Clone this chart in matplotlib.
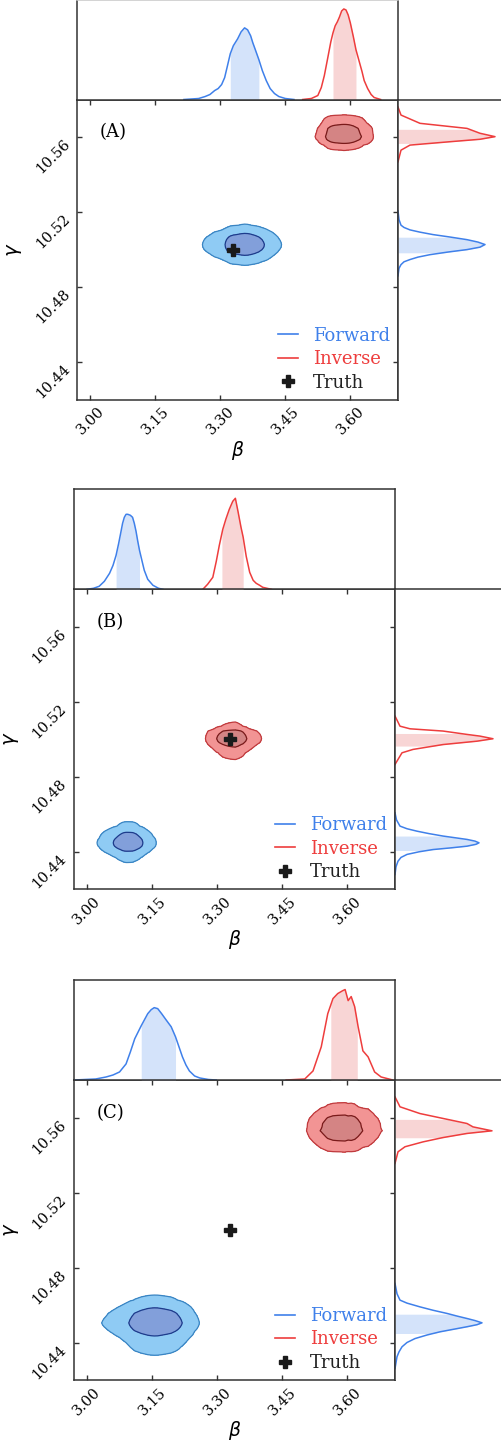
import numpy as np
import matplotlib
matplotlib.use("Agg")
import matplotlib.pyplot as plt
from matplotlib.lines import Line2D

plt.rcParams['font.family'] = ['DejaVu Serif']
plt.rcParams['mathtext.fontset'] = 'dejavusans'

# ---- data (densities in arbitrary units) ----
truth = (3.33, 10.50)
panel_labels = ['(A)', '(B)', '(C)']

# panel A
A_fwd_bx = [3.216, 3.25, 3.265, 3.276, 3.287, 3.295, 3.303, 3.31, 3.316, 3.323, 3.33, 3.34, 3.348,
            3.356, 3.363, 3.37, 3.375, 3.38, 3.389, 3.397, 3.406, 3.415, 3.425, 3.435, 3.45, 3.47]
A_fwd_bd = [0, 1, 3, 5, 9, 11, 15, 22, 33, 46, 54, 61, 68,
            72, 70, 64, 57, 51, 40, 29, 19, 11, 6, 3, 1, 0]
A_fwd_bs = (3.323, 3.389)
A_inv_bx = [3.49, 3.51, 3.525, 3.533, 3.54, 3.548, 3.555, 3.56, 3.565, 3.57, 3.575, 3.58, 3.585,
            3.59, 3.595, 3.60, 3.607, 3.613, 3.62, 3.627, 3.632, 3.64, 3.648, 3.655, 3.67]
A_inv_bd = [0, 1, 4, 12, 24, 42, 58, 67, 74, 78, 83, 89, 91,
            90, 85, 77, 63, 50, 39, 28, 19, 11, 5, 2, 0]
A_inv_bs = (3.56, 3.613)
A_fwd_gy = [10.486, 10.49, 10.492, 10.4935, 10.4947, 10.496, 10.4973, 10.4987, 10.5, 10.5013, 10.5027,
            10.504, 10.5053, 10.5067, 10.508, 10.5093, 10.5105, 10.5118, 10.513, 10.516, 10.5207]
A_fwd_gd = [0, 1, 3, 6, 12, 20, 32, 50, 69, 82, 87, 80, 69, 52, 35, 22, 12, 6, 3, 1, 0]
A_fwd_gs = (10.4983, 10.5066)
A_inv_gy = [10.5468, 10.553, 10.5557, 10.5575, 10.5588, 10.5602, 10.562, 10.5646, 10.5673, 10.5717, 10.576]
A_inv_gd = [0, 3, 12, 52, 82, 97, 82, 69, 22, 3, 0]
A_inv_gs = (10.5566, 10.5641)

# panel B
B_fwd_bx = [3.0, 3.015, 3.028, 3.04, 3.052, 3.06, 3.067, 3.073, 3.078, 3.082, 3.086, 3.09, 3.094,
            3.1, 3.105, 3.109, 3.113, 3.117, 3.121, 3.127, 3.132, 3.14, 3.152, 3.165, 3.175]
B_fwd_bd = [0, 1, 3, 8, 16, 24, 34, 46, 57, 66, 72, 75, 75,
            74, 72, 66, 58, 48, 39, 28, 19, 10, 4, 1, 0]
B_fwd_bs = (3.067, 3.121)
B_inv_bx = [3.267, 3.278, 3.29, 3.298, 3.305, 3.313, 3.32, 3.328, 3.336, 3.342, 3.348, 3.355,
            3.36, 3.367, 3.375, 3.383, 3.39, 3.398, 3.405, 3.425]
B_inv_bd = [0, 5, 12, 28, 44, 60, 70, 80, 88, 91, 78, 62,
            52, 33, 17, 9, 6, 4, 2, 0]
B_inv_bs = (3.311, 3.36)
B_fwd_gy = [10.4279, 10.432, 10.435, 10.437, 10.4386, 10.44, 10.4412, 10.4421, 10.443, 10.444, 10.4448,
            10.4457, 10.4466, 10.4475, 10.4484, 10.4497, 10.451, 10.4523, 10.4537, 10.457, 10.4608]
B_fwd_gd = [0, 1, 3, 6, 12, 24, 38, 56, 72, 81, 84, 80, 72, 60, 48, 34, 22, 12, 5, 1.5, 0]
B_fwd_gs = (10.4407, 10.4484)
B_inv_gy = [10.4866, 10.4928, 10.4946, 10.4972, 10.499, 10.5003, 10.5017, 10.5026, 10.5044, 10.5056, 10.507, 10.5124]
B_inv_gd = [0, 7, 18, 48, 82, 98, 85, 72, 48, 15, 5, 0]
B_inv_gs = (10.4964, 10.5031)

# panel C
C_fwd_bx = [2.97, 3.02, 3.044, 3.06, 3.075, 3.09, 3.1, 3.11, 3.125, 3.14, 3.148, 3.155, 3.163,
            3.172, 3.182, 3.194, 3.204, 3.212, 3.22, 3.228, 3.236, 3.248, 3.26, 3.28, 3.298]
C_fwd_bd = [0, 1, 3, 5, 8, 16, 28, 41, 54, 66, 70, 72, 71,
            66, 60, 53, 43, 33, 23, 15, 9, 4, 2, 0.5, 0]
C_fwd_bs = (3.125, 3.204)
C_inv_bx = [3.459, 3.502, 3.521, 3.54, 3.555, 3.567, 3.578, 3.59, 3.595, 3.602, 3.609, 3.617,
            3.625, 3.636, 3.648, 3.663, 3.678, 3.705]
C_inv_bd = [0, 1, 9, 33, 66, 81, 86, 89, 90, 79, 83, 73, 53, 29, 23, 8, 3, 0]
C_inv_bs = (3.562, 3.623)
C_fwd_gy = [10.4261, 10.4324, 10.435, 10.4377, 10.44, 10.4421, 10.444, 10.4457, 10.447, 10.4484, 10.4495,
            10.4505, 10.4517, 10.4528, 10.4541, 10.4555, 10.4572, 10.459, 10.461, 10.4626, 10.466, 10.4715]
C_fwd_gd = [0, 2, 4, 7, 12, 20, 32, 45, 58, 72, 82, 87, 80, 72, 62, 52, 38, 25, 12, 5, 2, 0]
C_fwd_gs = (10.4448, 10.4551)
C_inv_gy = [10.5355, 10.5417, 10.5444, 10.547, 10.5493, 10.5515, 10.5529, 10.555, 10.5568, 10.5595, 10.5621, 10.5657, 10.571]
C_inv_gd = [0, 3, 10, 28, 48, 72, 97, 78, 72, 48, 25, 5, 0]
C_inv_gs = (10.5492, 10.559)

xticks = [3.00, 3.15, 3.30, 3.45, 3.60]
yticks = [10.44, 10.48, 10.52, 10.56]

# styles
c_fwd, c_inv = '#3f80ea', '#ee3d3d'
shade_fwd, shade_inv = '#d4e3fa', '#f8d5d5'
fill_fwd = ['#8fcbf4', '#829fda']
edge_fwd = ['#3a84c2', '#1c3c8c']
fill_inv = ['#f29494', '#d48484']
edge_inv = ['#bf3a3d', '#7a1a1a']
spine_c = '#333333'

W, H = 501.0, 1450.0


def box(x0, y0, x1, y1):
    return [x0 / W, 1 - y1 / H, (x1 - x0) / W, (y1 - y0) / H]


def shaded(ax, xs, ds, lo, hi, color, vertical=False):
    xs = np.asarray(xs)
    ds = np.asarray(ds, dtype=float)
    inside = (xs > lo) & (xs < hi)
    px = np.concatenate([[lo], xs[inside], [hi]])
    pd_ = np.concatenate([[np.interp(lo, xs, ds)], ds[inside], [np.interp(hi, xs, ds)]])
    if vertical:
        ax.fill_betweenx(px, 0, pd_, color=color, lw=0)
    else:
        ax.fill_between(px, 0, pd_, color=color, lw=0)


def joint(ax, bx, bd, gy, gd, fills, edges):
    z = np.outer(np.asarray(gd, float), np.asarray(bd, float))
    z = z / z.max()
    ax.contourf(bx, gy, z, levels=[0.03, 0.33, 1.01], colors=fills)
    ax.contour(bx, gy, z, levels=[0.03, 0.33], colors=edges, linewidths=0.9)


panels = [
    (A_fwd_bx, A_fwd_bd, A_fwd_bs, A_inv_bx, A_inv_bd, A_inv_bs,
     A_fwd_gy, A_fwd_gd, A_fwd_gs, A_inv_gy, A_inv_gd, A_inv_gs),
    (B_fwd_bx, B_fwd_bd, B_fwd_bs, B_inv_bx, B_inv_bd, B_inv_bs,
     B_fwd_gy, B_fwd_gd, B_fwd_gs, B_inv_gy, B_inv_gd, B_inv_gs),
    (C_fwd_bx, C_fwd_bd, C_fwd_bs, C_inv_bx, C_inv_bd, C_inv_bs,
     C_fwd_gy, C_fwd_gd, C_fwd_gs, C_inv_gy, C_inv_gd, C_inv_gs),
]
# pixel frames of each panel: left, right, top of marginal, top of main, bottom of main
frames = [(77.3, 398, 0, 99.5, 399.7), (74, 395, 489.3, 589.3, 889.3), (74, 395, 979.5, 1080, 1380)]

fig = plt.figure(figsize=(5.01, 14.5), dpi=100)

for k, (p, fr, lab) in enumerate(zip(panels, frames, panel_labels)):
    (fbx, fbd, fbs, ibx, ibd, ibs, fgy, fgd, fgs, igy, igd, igs) = p
    x0, x1, yt, ym, yb = fr

    ax = fig.add_axes(box(x0, ym, x1, yb))
    axt = fig.add_axes(box(x0, yt, x1, ym))
    axr = fig.add_axes(box(x1, ym, x1 + 108, yb))

    # main panel
    joint(ax, fbx, fbd, fgy, fgd, fill_fwd, edge_fwd)
    joint(ax, ibx, ibd, igy, igd, fill_inv, edge_inv)
    ax.plot([truth[0]], [truth[1]], marker='P', ms=9, color='#1a1a1a', ls='none', zorder=5)
    ax.set_xlim(2.97, 3.71)
    ax.set_ylim(10.42, 10.58)
    ax.set_xticks(xticks)
    ax.set_yticks(yticks)
    ax.set_xticklabels([f'{v:.2f}' for v in xticks], rotation=45)
    ax.set_yticklabels([f'{v:.2f}' for v in yticks], rotation=45, ha='right', va='top')
    ax.tick_params(direction='in', top=True, right=True, length=3.5, width=1,
                   labelsize=10.5, color=spine_c)
    ax.set_xlabel(r'$\beta$', fontsize=13.5)
    ax.set_ylabel(r'$\gamma$', fontsize=14)
    ax.xaxis.set_label_coords(0.5, -0.13)
    ax.yaxis.set_label_coords(-0.166, 0.5)
    ax.text(0.07, 0.89, lab, transform=ax.transAxes, fontsize=13, va='center', ha='left')

    handles = [Line2D([], [], color=c_fwd, lw=1.2),
               Line2D([], [], color=c_inv, lw=1.2),
               Line2D([], [], marker='P', ms=9, color='#1a1a1a', ls='none')]
    leg = ax.legend(handles, ['Forward', 'Inverse', 'Truth'], loc='lower right',
                    frameon=False, fontsize=13, handlelength=1.1, handletextpad=0.8,
                    labelspacing=0.3, borderaxespad=0.05)
    for t, c in zip(leg.get_texts(), [c_fwd, c_inv, '#222222']):
        t.set_color(c)

    # top marginal (beta)
    shaded(axt, fbx, fbd, fbs[0], fbs[1], shade_fwd)
    shaded(axt, ibx, ibd, ibs[0], ibs[1], shade_inv)
    axt.plot(fbx, fbd, color=c_fwd, lw=1.1)
    axt.plot(ibx, ibd, color=c_inv, lw=1.1)
    axt.set_xlim(2.97, 3.71)
    axt.set_ylim(0, 100)
    axt.set_xticks([])
    axt.set_yticks([])

    # right marginal (gamma)
    shaded(axr, fgy, fgd, fgs[0], fgs[1], shade_fwd, vertical=True)
    shaded(axr, igy, igd, igs[0], igs[1], shade_inv, vertical=True)
    axr.plot(fgd, fgy, color=c_fwd, lw=1.1)
    axr.plot(igd, igy, color=c_inv, lw=1.1)
    axr.set_ylim(10.42, 10.58)
    axr.set_xlim(0, 108)
    axr.set_xticks([])
    axr.set_yticks([])
    axr.spines['right'].set_visible(False)
    axr.spines['bottom'].set_visible(False)

    for a in (ax, axt, axr):
        for s in a.spines.values():
            s.set_color(spine_c)
            s.set_linewidth(1.1)
    if k == 0:
        # top edge of the first panel is cut by the image border
        axt.spines['top'].set_color('#c8c8c8')

fig.savefig('out.png', dpi=100)
